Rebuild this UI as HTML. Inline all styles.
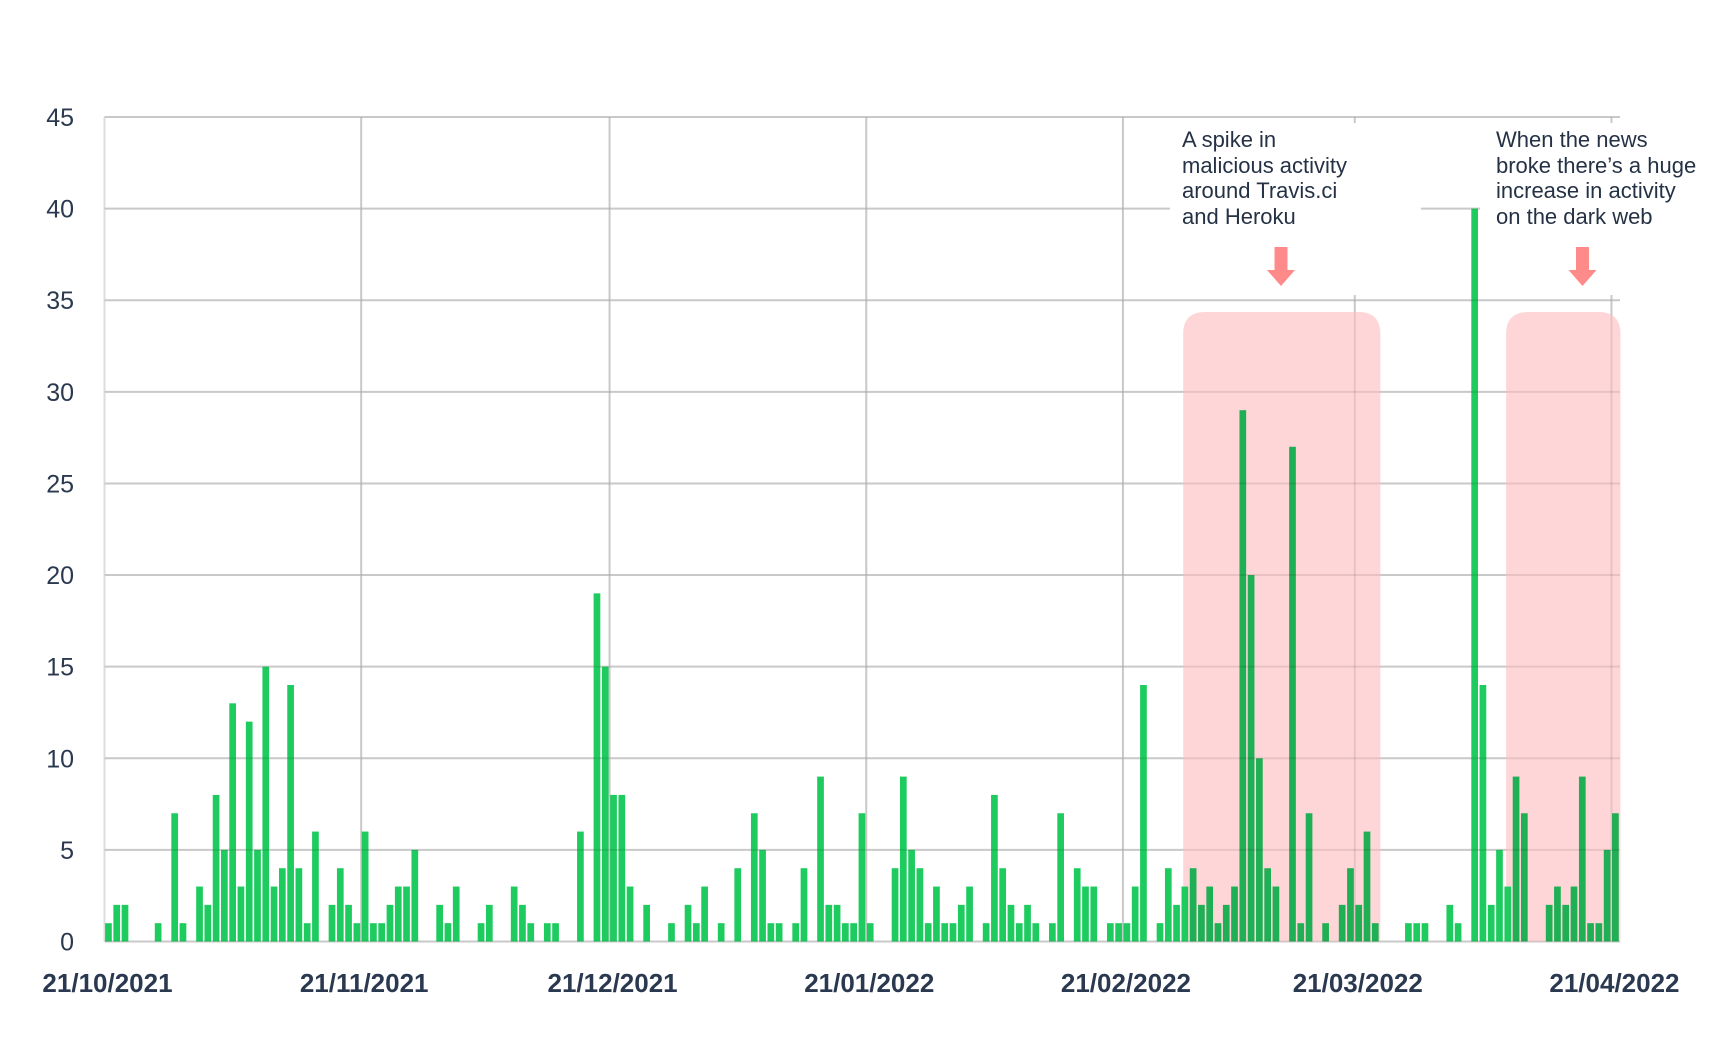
<!DOCTYPE html>
<html><head><meta charset="utf-8"><style>
html,body{margin:0;padding:0;background:#fff;}
svg{display:block;font-family:"Liberation Sans",sans-serif;}
</style></head><body>
<svg id="chart" width="1728" height="1062" viewBox="0 0 1728 1062" xmlns="http://www.w3.org/2000/svg">
<g id="grid"></g>
<g id="hl"></g>
<g id="bars"></g>
<g id="gridtop"></g>
<rect x="1170" y="123" width="251" height="172" fill="#fff"/>
<rect x="1480" y="123" width="248" height="172" fill="#fff"/>
<g id="ylabels"></g>
<g id="xlabels"></g>
<g fill="#253245" font-size="22">
<text x="1182" y="147">A spike in</text>
<text x="1182" y="173">malicious activity</text>
<text x="1182" y="198">around Travis.ci</text>
<text x="1182" y="224">and Heroku</text>
</g>
<g fill="#253245" font-size="22">
<text x="1496" y="147">When the news</text>
<text x="1496" y="173">broke there’s a huge</text>
<text x="1496" y="198">increase in activity</text>
<text x="1496" y="224">on the dark web</text>
</g>
<path d="M1274.5 247h13v23h7.5l-14 16l-14 -16h7.5z" fill="#ff8a8a"/>
<path d="M1576 247h13v23h7.5l-14 16l-14 -16h7.5z" fill="#ff8a8a"/>
</svg>
<script>
const days = [0,1,2,6,8,9,11,12,13,14,15,16,17,18,19,20,21,22,23,24,25,27,28,29,30,31,32,33,34,35,36,37,40,41,42,45,46,49,50,51,53,54,57,59,60,61,62,63,65,68,70,71,72,74,76,78,79,80,81,83,84,86,87,88,89,90,91,92,95,96,97,98,99,100,101,102,103,104,106,107,108,109,110,111,112,114,115,117,118,119,121,122,123,124,125,127,128,129,130,131,132,133,134,135,136,137,138,139,140,141,143,144,145,147,149,150,151,152,153,157,158,159,162,163,165,166,167,168,169,170,171,174,175,176,177,178,179,180,181,182];
const counts = [1,2,2,1,7,1,3,2,8,5,13,3,12,5,15,3,4,14,4,1,6,2,4,2,1,6,1,1,2,3,3,5,2,1,3,1,2,3,2,1,1,1,6,19,15,8,8,3,2,1,2,1,3,1,4,7,5,1,1,1,4,9,2,2,1,1,7,1,4,9,5,4,1,3,1,1,2,3,1,8,4,2,1,2,1,1,7,4,3,3,1,1,1,3,14,1,4,2,3,4,2,3,1,2,3,29,20,10,4,3,27,1,7,1,2,4,2,6,1,1,1,1,2,1,40,14,2,5,3,9,7,2,3,2,3,9,1,1,5,7];
const yTicks = [0,5,10,15,20,25,30,35,40,45];
const xTickDays = [0,31,61,92,123,151,182];
const xTickLabels = ["21/10/2021","21/11/2021","21/12/2021","21/01/2022","21/02/2022","21/03/2022","21/04/2022"];
const highlightRanges = [[131,153],[170,182]];

const NS="http://www.w3.org/2000/svg";
const X0=104.5, DAY=8.28, Y0=941.5, UNIT=(941.5-117)/45, RIGHT=1620;
const xs=d=>X0+d*DAY;
const ys=v=>Y0-v*UNIT;
function mk(tag,attrs,parent){const e=document.createElementNS(NS,tag);for(const k in attrs)e.setAttribute(k,attrs[k]);parent.appendChild(e);return e;}
const grid=document.getElementById('grid'),gtop=document.getElementById('gridtop'),bars=document.getElementById('bars'),hl=document.getElementById('hl');
const yl=document.getElementById('ylabels'),xl=document.getElementById('xlabels');
// horizontal gridlines
yTicks.forEach(t=>{
  const l=mk('line',{x1:X0,x2:RIGHT,y1:ys(t),y2:ys(t),stroke:'#dddddd','stroke-width':2},grid);
  
  
  const l2=mk('line',{x1:X0,x2:RIGHT,y1:ys(t),y2:ys(t),stroke:'rgba(0,0,0,0.09)','stroke-width':2},gtop);
  
  
  const tx=mk('text',{x:74,y:ys(t)+9,'text-anchor':'end','font-size':25,fill:'#2b3950'},yl);
  tx.textContent=t;
  
  
});
// vertical gridlines
xTickDays.forEach((d,i)=>{
  const l=mk('line',{x1:xs(d),x2:xs(d),y1:ys(45),y2:Y0,stroke:'#dddddd','stroke-width':2},grid);
  
  
  if(i>0){const l2=mk('line',{x1:xs(d),x2:xs(d),y1:ys(45),y2:Y0,stroke:'rgba(0,0,0,0.09)','stroke-width':2},gtop);
  
  }
  const tx=mk('text',{x:xs(d)+3,y:992,'text-anchor':'middle','font-size':26,'font-weight':'bold',fill:'#2b3950'},xl);
  tx.textContent=xTickLabels[i];
  
  
});
// highlights
highlightRanges.forEach(r=>{
  const x1=xs(r[0])-6, x2=xs(r[1])+9, top=312, rad=22;
  const p=mk('path',{d:`M${x1} ${Y0}V${top+rad}Q${x1} ${top} ${x1+rad} ${top}H${x2-rad}Q${x2} ${top} ${x2} ${top+rad}V${Y0}Z`,fill:'#ffd6d7'},hl);
  
  
});
// bars
days.forEach((d,i)=>{
  const inHl=highlightRanges.some(r=>d>=r[0]&&d<=r[1]);
  const b=mk('rect',{x:xs(d)+0.6,y:ys(counts[i]),width:6.7,height:Y0-ys(counts[i]),fill:inHl?'#1faf55':'#1ecb5f'},bars);
  
  
});
</script>
</body></html>
